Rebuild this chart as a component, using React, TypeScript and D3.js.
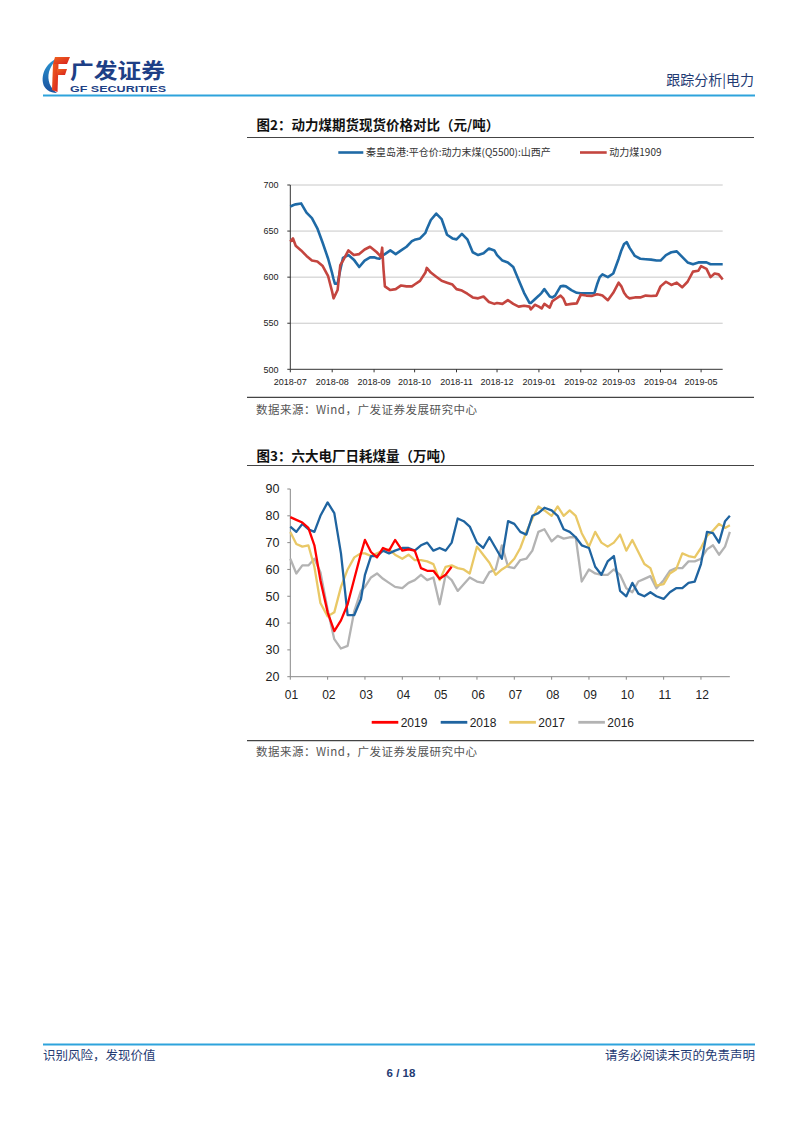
import React from "react";
import * as d3 from "d3";

// ---------------- Chart 1 data: 动力煤期货现货价格对比（元/吨） ----------------
const priceDates = [
  "2018-07-01","2018-07-03","2018-07-05","2018-07-09","2018-07-13","2018-07-17","2018-07-21","2018-07-25","2018-07-29",
  "2018-08-01","2018-08-02","2018-08-03","2018-08-05","2018-08-07","2018-08-09","2018-08-13","2018-08-17","2018-08-21","2018-08-25","2018-08-29",
  "2018-09-01","2018-09-03","2018-09-05","2018-09-06","2018-09-07","2018-09-08","2018-09-09","2018-09-13","2018-09-17","2018-09-21","2018-09-25","2018-09-29",
  "2018-10-01","2018-10-05","2018-10-09","2018-10-10","2018-10-13","2018-10-17","2018-10-21","2018-10-25","2018-10-29",
  "2018-11-01","2018-11-05","2018-11-09","2018-11-13","2018-11-17","2018-11-21","2018-11-25","2018-11-29",
  "2018-12-01","2018-12-05","2018-12-09","2018-12-13","2018-12-17","2018-12-21","2018-12-25","2018-12-26","2018-12-29",
  "2019-01-01","2019-01-03","2019-01-05","2019-01-09","2019-01-11","2019-01-13","2019-01-17","2019-01-19","2019-01-21","2019-01-25","2019-01-29",
  "2019-02-01","2019-02-05","2019-02-09","2019-02-11","2019-02-13","2019-02-15","2019-02-17","2019-02-21","2019-02-25",
  "2019-03-01","2019-03-03","2019-03-05","2019-03-07","2019-03-09","2019-03-13","2019-03-17","2019-03-21","2019-03-25","2019-03-29",
  "2019-04-01","2019-04-05","2019-04-09","2019-04-13","2019-04-17","2019-04-21","2019-04-25","2019-04-29",
  "2019-05-01","2019-05-05","2019-05-08","2019-05-11","2019-05-14","2019-05-17",
];
const spotPrice = [
  676.5,678,679,680,670,664,653,637,620,
  604,598,593,593,608,621,624,619,611,618,621.5,
  621.5,620.5,620,621,623,624,625,629,625,629,633,639,
  640.5,642,648,652,662,669,663,646,642,
  641,647,641,627,624,626,631,629,
  624,618,616,611,597,583,572,572,576,
  580,583,587,579,578,580,590,590.5,590,586,583,
  582.5,582.5,582.5,582.5,592,600,603,600,604,
  620,629,636,638,632,623,620,619.5,619,618,
  618,624,627,628,622,616,614,616,
  616,616,614,614,614,614,
];
const futuresPrice = [
  638.5,642,634,629,623,618,617,612,601,
  584,577,580,586,613,618,629,624,625,630,633,
  629.5,627,624,622,632,608,590,586,587,591,590,590,
  592,596,605,610,605,600.5,596,594,592,
  587,585.5,582,578,577,579,573,571,
  572,571,575,571,568,569,568,565,570,
  568,566,571,567,574,576,580,577,570,571,571.5,
  581,580,579.5,580.5,581.5,581,580,575,583,
  594,590,583,579,577,578,578,580,579.5,580,
  590,595,591.5,594,589,595,606,607,
  612,609,600,604,603,597.5,
];
const priceTicks = [500, 550, 600, 650, 700];
const priceSeriesNames = ["秦皇岛港:平仓价:动力末煤(Q5500):山西产", "动力煤1909"];

// ---------------- Chart 2 data: 六大电厂日耗煤量（万吨） ----------------
const monthLabels = ["01","02","03","04","05","06","07","08","09","10","11","12"];
const dayCategories = [
  "01-01","01-06","01-11","01-16","01-21","01-26",
  "02-01","02-06","02-11","02-16","02-21","02-26",
  "03-01","03-06","03-11","03-16","03-21","03-26",
  "04-01","04-06","04-11","04-16","04-21","04-26",
  "05-01","05-06","05-11","05-16","05-21","05-26",
  "06-01","06-06","06-11","06-16","06-21","06-26",
  "07-01","07-06","07-11","07-16","07-21","07-26",
  "08-01","08-06","08-11","08-16","08-21","08-26",
  "09-01","09-06","09-11","09-16","09-21","09-26",
  "10-01","10-06","10-11","10-16","10-21","10-26",
  "11-01","11-06","11-11","11-16","11-21","11-26",
  "12-01","12-06","12-11","12-16","12-21","12-25",
];
const coal2019 = [
  79.5,78.5,77.5,75.5,69,56,
  44,37,41,47,56.5,66,
  71,66.5,64.5,68,67,71,
  67,67.5,67,60.5,59.5,59.5,
  56.5,58,61,
];
const coal2018 = [
  76,74,77,75,74,80,
  85,81,66,43,43,49,
  58,65,65,67,66,67,
  68,68,67,69,70,67,
  68,67,70,79,78,76,
  70,68,72,68,64,78,
  77,74,73,80,81,83,
  82,80,75,74,72,69,
  68,61,58,63,65,52,
  50,55,51,50,51.5,50,
  49,51.5,53,53,55,55.5,
  62,74,73.5,70,78,80,
];
const coal2017 = [
  74,69.5,68.5,69,61,47.5,
  42.5,44,53.5,60,64.5,66,
  66,65,66,67,67.5,65.5,
  64,65.5,63.5,63.5,63,62,
  56,61,61.5,60.5,60,58.5,
  68.5,65.5,62.5,58,60,61.5,
  64,68,74,79,83.5,82,
  80,83.5,80,82,80,73.5,
  68.5,74,70,68.5,70,73,
  67,71,66.5,62,60.5,54,
  54.5,58.5,60,66,65,64.5,
  68,72.5,74.5,77,75.5,76.5,
];
const coal2016 = [
  64,58.5,61.5,61.5,64,59,
  45,34,30.5,31.5,44.5,52,
  53.5,57,58.5,56.5,55,53.5,
  53,55,56,58,56,57,
  47,58,56,52,54.5,57,
  55.5,55,59,60,69,61,
  60.5,63.5,64,67,74,75,
  70.5,72.5,71.5,72,72,55.5,
  60,58.5,58,58,60,58,
  53,51.5,55.5,56.5,57.5,53,
  56,59.5,60.5,60.5,63,63,
  64,67.5,69,65.5,68.5,74,
];
const coalTicks = [20, 30, 40, 50, 60, 70, 80, 90];
const coalSeriesNames = ["2019", "2018", "2017", "2016"];

// ---------------- styles ----------------
const SANS = "'Liberation Sans', Arial, sans-serif";
const CJK = "'Noto Sans CJK SC', 'Noto Sans', sans-serif";
const NAVY = "#1f3b73";
const HEADER_BLUE = "#2ea3dc";

const C1_BLUE = "#1f6aa6";
const C1_RED = "#c4453f";
const C2_COLORS = ["#ff0000", "#1f64a0", "#e9c866", "#b3b3b3"];

const DIM = [31, 28, 31, 30, 31, 30, 31, 31, 30, 31, 30, 31];
function monthPos(c: string): number {
  const [m, d] = c.split("-").map(Number);
  return m - 1 + (d - 1) / DIM[m - 1];
}

function Logo() {
  return (
    <g>
      <defs>
        <linearGradient id="lgBlue" x1="0" y1="0" x2="0" y2="1">
          <stop offset="0" stopColor="#2a9ad6" />
          <stop offset="1" stopColor="#1b4f9c" />
        </linearGradient>
        <linearGradient id="lgRed" x1="0" y1="0" x2="1" y2="1">
          <stop offset="0" stopColor="#f0641e" />
          <stop offset="1" stopColor="#d8201e" />
        </linearGradient>
      </defs>
      <path d="M61 57 C49 60 41 71 43 83 C44 89 50 93 57 93 C50 88 47 80 49 72 C51 65 55 60 61 57 Z" fill="url(#lgBlue)" />
      <path d="M55 57 L70 57 L67 64 L53 64 Z" fill="url(#lgRed)" />
      <path d="M53 64 L58.5 64 L57.5 92 L52 90 Z" fill="url(#lgRed)" />
      <path d="M57 69 L67 69 L65 75 L57 75 Z" fill="url(#lgRed)" />
      <text x={70} y={77.5} fontFamily={CJK} fontWeight={700} fontSize={21} fill="#1e3f86" textLength={95} lengthAdjust="spacingAndGlyphs">广发证券</text>
      <text x={70} y={92} fontFamily={SANS} fontWeight={700} fontSize={9.5} fill="#1e3f86" textLength={96} lengthAdjust="spacingAndGlyphs">GF SECURITIES</text>
    </g>
  );
}

function PriceChart() {
  const parse = d3.timeParse("%Y-%m-%d");
  const dates = priceDates.map((s) => parse(s) as Date);
  const x = d3.scaleTime().domain([new Date(2018, 6, 1), new Date(2019, 4, 17)]).range([290.3, 722.7]);
  const y = d3.scaleLinear().domain([500, 700]).range([369.3, 185]);
  const line = d3.line<number>().x((_, i) => x(dates[i])).y((v) => y(v));
  const monthTicks = d3.timeMonth.range(new Date(2018, 6, 1), new Date(2019, 4, 2));
  const fmt = d3.timeFormat("%Y-%m");
  const [x0, x1] = x.range();
  return (
    <g>
      {/* title */}
      <text x={256.5} y={130} fontFamily={CJK} fontWeight={700} fontSize={13.5} fill="#111">图2：动力煤期货现货价格对比（元/吨）</text>
      <line x1={247} x2={754} y1={137.5} y2={137.5} stroke="#444" strokeWidth={1.2} />
      {/* legend */}
      <line x1={338.3} x2={363.3} y1={152.5} y2={152.5} stroke={C1_BLUE} strokeWidth={2.6} />
      <text x={366} y={156} fontFamily={CJK} fontSize={10} fill="#333">{priceSeriesNames[0]}</text>
      <line x1={580} x2={606.7} y1={152.5} y2={152.5} stroke={C1_RED} strokeWidth={2.6} />
      <text x={609.3} y={156} fontFamily={CJK} fontSize={10} fill="#333">{priceSeriesNames[1]}</text>
      {/* grid */}
      {priceTicks.filter((t) => t > 500).map((t) => (
        <line key={t} x1={x0} x2={x1} y1={y(t)} y2={y(t)} stroke="#c8c8c8" strokeWidth={1} />
      ))}
      {/* y axis */}
      <line x1={x0} x2={x0} y1={y(700)} y2={y(500)} stroke="#333" strokeWidth={1} />
      {priceTicks.map((t) => (
        <g key={t}>
          <line x1={x0 - 3} x2={x0} y1={y(t)} y2={y(t)} stroke="#333" strokeWidth={1} />
          <text x={278.5} y={y(t) + 3.2} textAnchor="end" fontFamily={SANS} fontSize={9} fill="#222">{t}</text>
        </g>
      ))}
      {/* x axis */}
      <line x1={x0} x2={x1} y1={y(500)} y2={y(500)} stroke="#333" strokeWidth={1} />
      {monthTicks.map((d) => (
        <g key={+d}>
          <line x1={x(d)} x2={x(d)} y1={y(500)} y2={y(500) + 3} stroke="#333" strokeWidth={1} />
          <text x={x(d)} y={y(500) + 15.5} textAnchor="middle" fontFamily={SANS} fontSize={9} fill="#222">{fmt(d)}</text>
        </g>
      ))}
      {/* lines */}
      <path d={line(spotPrice) || ""} fill="none" stroke={C1_BLUE} strokeWidth={2.6} strokeLinejoin="round" />
      <path d={line(futuresPrice) || ""} fill="none" stroke={C1_RED} strokeWidth={2.6} strokeLinejoin="round" />
      {/* source */}
      <line x1={247} x2={754} y1={397.3} y2={397.3} stroke="#444" strokeWidth={1.2} />
      <text x={256} y={413.5} fontFamily={CJK} fontSize={11.5} fill="#555" letterSpacing={0.5}>数据来源：Wind，广发证券发展研究中心</text>
    </g>
  );
}

function CoalChart() {
  const x = d3.scaleLinear().domain([0, 12]).range([290.3, 738.3]);
  const y = d3.scaleLinear().domain([20, 90]).range([676.7, 489]);
  const pos = dayCategories.map(monthPos);
  const line = d3.line<number>().x((_, i) => x(pos[i])).y((v) => y(v));
  const xEnd = x(pos[pos.length - 1]);
  const x0 = x(0);
  const series = [coal2019, coal2018, coal2017, coal2016];
  const drawOrder = [3, 2, 1, 0];
  const legendX = [371.7, 440.7, 509.3, 578.3];
  return (
    <g>
      <text x={256.5} y={460.5} fontFamily={CJK} fontWeight={700} fontSize={13.5} fill="#111">图3：六大电厂日耗煤量（万吨）</text>
      <line x1={247} x2={754} y1={465.5} y2={465.5} stroke="#444" strokeWidth={1.2} />
      {/* y axis */}
      <line x1={x0} x2={x0} y1={y(90)} y2={y(20)} stroke="#888" strokeWidth={1} />
      {coalTicks.map((t) => (
        <g key={t}>
          <line x1={x0 - 3} x2={x0} y1={y(t)} y2={y(t)} stroke="#888" strokeWidth={1} />
          <text x={279.5} y={y(t) + 4.3} textAnchor="end" fontFamily={SANS} fontSize={12.5} fill="#222">{t}</text>
        </g>
      ))}
      {/* x axis */}
      <line x1={x0} x2={xEnd} y1={y(20)} y2={y(20)} stroke="#888" strokeWidth={1} />
      {monthLabels.map((m, i) => (
        <g key={m}>
          <line x1={x(i)} x2={x(i)} y1={y(20)} y2={y(20) + 3} stroke="#888" strokeWidth={1} />
          <text x={x(i) + 1.2} y={699} textAnchor="middle" fontFamily={SANS} fontSize={12} fill="#222">{m}</text>
        </g>
      ))}
      {/* lines */}
      {drawOrder.map((si) => (
        <path key={si} d={line(series[si]) || ""} fill="none" stroke={C2_COLORS[si]} strokeWidth={2.3} strokeLinejoin="round" />
      ))}
      {/* legend */}
      {coalSeriesNames.map((n, i) => (
        <g key={n}>
          <line x1={legendX[i]} x2={legendX[i] + 26.6} y1={722.3} y2={722.3} stroke={C2_COLORS[i]} strokeWidth={2.8} />
          <text x={legendX[i] + 29} y={726.5} fontFamily={SANS} fontSize={12} fill="#222">{n}</text>
        </g>
      ))}
      <line x1={247} x2={754} y1={740.7} y2={740.7} stroke="#444" strokeWidth={1.2} />
      <text x={256} y={756} fontFamily={CJK} fontSize={11.5} fill="#555" letterSpacing={0.5}>数据来源：Wind，广发证券发展研究中心</text>
    </g>
  );
}

export default function App() {
  return (
    <div style={{ position: "absolute", left: 0, top: 0, width: 802, height: 1133, background: "#fff" }}>
      <svg width={802} height={1133} viewBox="0 0 802 1133" style={{ display: "block" }}>
        <rect x={0} y={0} width={802} height={1133} fill="#fff" />
        <Logo />
        <text x={754} y={85} textAnchor="end" fontFamily={CJK} fontSize={14} fill={NAVY}>跟踪分析|电力</text>
        <line x1={43} x2={755} y1={95.5} y2={95.5} stroke={HEADER_BLUE} strokeWidth={2} />
        <PriceChart />
        <CoalChart />
        <line x1={43} x2={755} y1={1044.5} y2={1044.5} stroke={HEADER_BLUE} strokeWidth={2} />
        <text x={43} y={1060} fontFamily={CJK} fontSize={12.5} fill={NAVY}>识别风险，发现价值</text>
        <text x={755} y={1060} textAnchor="end" fontFamily={CJK} fontSize={12.5} fill={NAVY}>请务必阅读末页的免责声明</text>
        <text x={401} y={1077} textAnchor="middle" fontFamily={SANS} fontWeight={700} fontSize={11.5} fill={NAVY}>6 / 18</text>
      </svg>
    </div>
  );
}
